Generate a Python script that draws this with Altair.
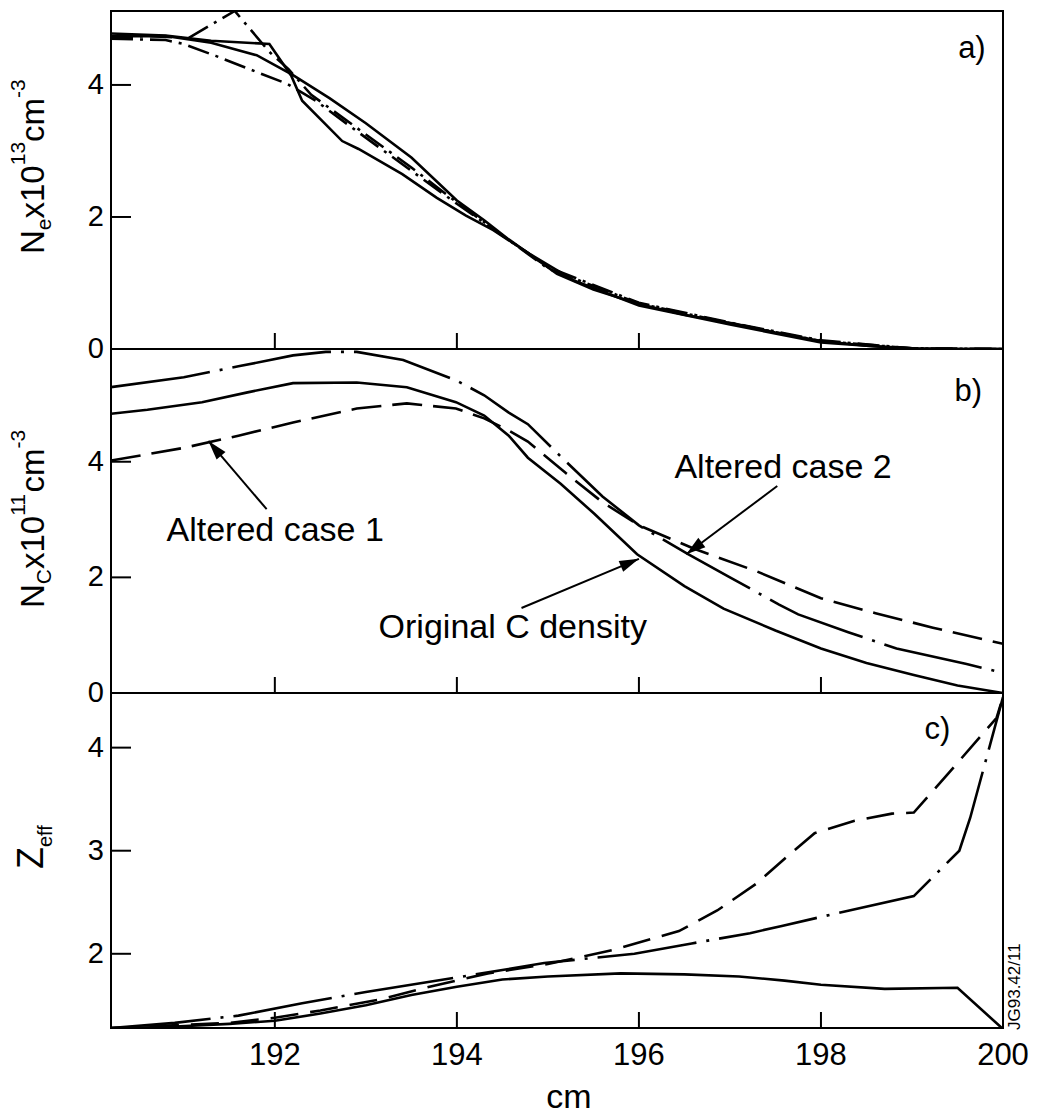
import math
import altair as alt
import pandas as pd

FONT = "Liberation Sans"

# ---------------- axes / layout values ----------------
XDOM = [190.2, 200.0]
X_TICKS = [192, 194, 196, 198]
X_LABELS = [192, 194, 196, 198, 200]
X_TITLE = "cm"
W = 892
H_A, H_B, H_C = 338, 344, 335
YDOM_A = [0, 5.12]
YDOM_B = [0, 5.95]
YDOM_C = [1.28, 4.53]
Y_TICKS_A = [2, 4]
Y_LABELS_A = [0, 2, 4]
Y_TICKS_B = [2, 4]
Y_LABELS_B = [0, 2, 4]
Y_TICKS_C = [2, 3, 4]
Y_LABELS_C = [2, 3, 4]

# ---------------- panel a: N_e ----------------
A_S1_X = [190.2, 190.8, 191.3, 191.8, 192.2, 192.6, 193.0, 193.5, 194.0, 194.3, 194.57, 195.1, 195.5, 196.0, 196.5, 197.07, 197.5, 198.0, 198.5, 199.0, 199.5, 200.0]
A_S1_Y = [4.74, 4.74, 4.64, 4.45, 4.15, 3.8, 3.42, 2.9, 2.25, 1.95, 1.66, 1.14, 0.9, 0.68, 0.52, 0.38, 0.25, 0.12, 0.05, 0.01, 0.0, 0.0]
A_S2_X = [190.2, 190.8, 191.3, 191.94, 192.18, 192.3, 192.74, 192.92, 193.4, 193.78, 194.1, 194.4, 194.8, 195.3, 196.0, 197.0, 198.0, 199.0, 200.0]
A_S2_Y = [4.78, 4.75, 4.67, 4.62, 4.14, 3.76, 3.15, 3.03, 2.65, 2.29, 2.02, 1.8, 1.44, 1.03, 0.66, 0.37, 0.1, 0.0, 0.0]
A_D1_X = [190.2, 190.6, 191.05, 191.56, 191.94, 192.15, 192.4, 192.7, 193.0, 193.5, 194.0, 194.5, 195.0, 196.0, 197.0, 198.0, 199.0, 200.0]
A_D1_Y = [4.72, 4.74, 4.71, 5.12, 4.5, 4.24, 3.85, 3.55, 3.25, 2.75, 2.22, 1.72, 1.24, 0.7, 0.4, 0.13, 0.01, 0.0]
A_D2_X = [190.2, 190.8, 191.0, 191.35, 191.7, 192.13, 192.45, 192.9, 193.5, 194.0, 194.4, 195.0, 196.0, 197.0, 198.0, 199.0, 200.0]
A_D2_Y = [4.70, 4.68, 4.62, 4.44, 4.25, 4.02, 3.76, 3.3, 2.7, 2.2, 1.82, 1.22, 0.69, 0.39, 0.12, 0.01, 0.0]

# ---------------- panel b: N_C ----------------
B_ORIG_X = [190.2, 190.6, 191.2, 191.7, 192.2, 192.9, 193.45, 193.99, 194.3, 194.57, 194.78, 195.14, 195.51, 195.98, 196.5, 196.93, 197.5, 198.0, 198.5, 199.02, 199.5, 200.0]
B_ORIG_Y = [4.83, 4.90, 5.03, 5.2, 5.36, 5.37, 5.29, 5.03, 4.8, 4.45, 4.07, 3.62, 3.1, 2.4, 1.85, 1.46, 1.08, 0.77, 0.52, 0.31, 0.13, 0.0]
B_C1_X = [190.2, 191.0, 191.6, 192.2, 192.9, 193.45, 193.99, 194.3, 194.57, 194.78, 195.2, 195.6, 196.0, 196.6, 197.3, 198.0, 198.6, 199.23, 200.0]
B_C1_Y = [4.02, 4.24, 4.45, 4.68, 4.92, 5.01, 4.92, 4.75, 4.54, 4.35, 3.8, 3.3, 2.9, 2.5, 2.1, 1.64, 1.38, 1.13, 0.85]
B_C2_X = [190.2, 191.0, 191.6, 192.2, 192.56, 192.9, 193.41, 193.99, 194.3, 194.57, 194.78, 195.2, 195.6, 196.0, 196.54, 197.0, 197.54, 197.75, 198.3, 198.83, 199.6, 200.0]
B_C2_Y = [5.29, 5.46, 5.65, 5.84, 5.9, 5.9, 5.76, 5.41, 5.15, 4.85, 4.65, 4.0, 3.4, 2.9, 2.4, 2.0, 1.53, 1.36, 1.05, 0.77, 0.5, 0.35]

# ---------------- panel c: Z_eff ----------------
C_ORIG_X = [190.2, 190.8, 191.5, 192.0, 192.5, 193.0, 193.5, 194.0, 194.5, 195.0, 195.8, 196.5, 197.1, 197.6, 198.0, 198.7, 199.5, 200.0]
C_ORIG_Y = [1.28, 1.29, 1.32, 1.35, 1.42, 1.5, 1.6, 1.68, 1.75, 1.78, 1.81, 1.80, 1.78, 1.74, 1.70, 1.66, 1.67, 1.27]
C_C1_X = [190.2, 191.0, 191.5, 192.0, 192.5, 193.17, 193.7, 194.34, 195.0, 195.73, 196.44, 196.86, 197.29, 197.61, 197.93, 198.37, 198.78, 199.02, 199.4, 199.93, 200.0]
C_C1_Y = [1.28, 1.31, 1.33, 1.38, 1.45, 1.56, 1.68, 1.81, 1.9, 2.04, 2.22, 2.42, 2.68, 2.93, 3.17, 3.29, 3.36, 3.37, 3.75, 4.29, 4.49]
C_C2_X = [190.2, 190.9, 191.6, 192.3, 193.0, 194.0, 194.96, 195.5, 195.95, 196.58, 197.22, 197.57, 198.16, 199.02, 199.52, 199.64, 199.8, 200.0]
C_C2_Y = [1.28, 1.33, 1.40, 1.52, 1.63, 1.77, 1.91, 1.96, 2.0, 2.1, 2.2, 2.27, 2.39, 2.56, 3.0, 3.32, 3.84, 4.49]

# ---------------- annotations (panel b) ----------------
ANN_TEXT = ["Altered case 1", "Altered case 2", "Original C density"]
ANN_X = [190.81, 196.39, 193.14]
ANN_Y = [2.63, 3.72, 0.95]
ARROW_TAIL_X = [191.91, 197.52, 194.71]
ARROW_TAIL_Y = [3.18, 3.58, 1.47]
ARROW_TIP_X = [191.27, 196.52, 196.0]
ARROW_TIP_Y = [4.36, 2.40, 2.32]

PANEL_LABELS = ["a)", "b)", "c)"]
PANEL_LABEL_X = [199.81, 199.77, 199.42]
PANEL_LABEL_Y = [4.41, 5.05, 4.08]

SOLID = None
DASHED_B = [30, 11]
DASHED_C = [28, 12]
DASHDOT_A = [22, 7, 3, 7]
DASHDOT_BC = [100, 10, 3, 10]

CHAR_W = {'N': .722, 'e': .556, 'x': .5, '1': .556, '0': .556, '3': .556, 'c': .5,
          'm': .833, '-': .333, 'C': .722, 'Z': .611, 'f': .278}

ONE = pd.DataFrame({"k": [0]})


def text_width(t, size):
    return sum(CHAR_W.get(ch, .556) for ch in t) * size


def line_df(series):
    rows = []
    for name, xs, ys in series:
        for i, (x, y) in enumerate(zip(xs, ys)):
            rows.append({"series": name, "x": x, "y": y, "order": i})
    return pd.DataFrame(rows)


def fixed_text(txt, x, y, size, angle=0, align="left", baseline="alphabetic"):
    mk = dict(font=FONT, fontSize=size, align=align, baseline=baseline, color="black")
    if angle:
        mk["angle"] = angle
    return alt.Chart(ONE).mark_text(**mk).encode(
        x=alt.value(x), y=alt.value(y), text=alt.value(txt))


def title_layers(pieces, bx, by):
    layers = []
    y = by
    for txt, size, shift in pieces:
        layers.append(fixed_text(txt, bx + shift, y, size, angle=270))
        y -= text_width(txt, size)
    return layers


def make_panel(groups, ydom, h, ytick_vals, ylabel_vals, label_idx, bottom_labels=False, extra=()):
    xs = alt.Scale(domain=XDOM, nice=False, zero=False)
    ys = alt.Scale(domain=ydom, nice=False, zero=False)
    layers = []
    for dash, series in groups:
        mk = dict(color="black", strokeWidth=2.6, clip=True)
        if dash is not None:
            mk["strokeDash"] = dash
        layers.append(
            alt.Chart(line_df(series)).mark_line(**mk).encode(
                x=alt.X("x:Q", scale=xs, axis=None),
                y=alt.Y("y:Q", scale=ys, axis=None),
                detail="series:N",
                order="order:Q",
            )
        )
    # inward tick marks
    xt = alt.Chart(pd.DataFrame({"v": X_TICKS})).mark_rule(color="black", strokeWidth=2).encode(
        x=alt.X("v:Q", scale=xs, axis=None), y=alt.value(h), y2=alt.value(h - 16))
    yt = alt.Chart(pd.DataFrame({"v": ytick_vals})).mark_rule(color="black", strokeWidth=2).encode(
        y=alt.Y("v:Q", scale=ys, axis=None), x=alt.value(0), x2=alt.value(20))
    layers.extend([xt, yt])
    # y tick labels
    ylab = alt.Chart(pd.DataFrame({"v": ylabel_vals, "t": [str(v) for v in ylabel_vals]})).mark_text(
        font=FONT, fontSize=29, align="right", baseline="middle", color="black").encode(
        y=alt.Y("v:Q", scale=ys, axis=None), x=alt.value(-7), text="t:N")
    layers.append(ylab)
    if bottom_labels:
        xlab = alt.Chart(pd.DataFrame({"v": X_LABELS, "t": [str(v) for v in X_LABELS]})).mark_text(
            font=FONT, fontSize=31, align="center", baseline="top", color="black").encode(
            x=alt.X("v:Q", scale=xs, axis=None), y=alt.value(h + 13), text="t:N")
        layers.append(xlab)
        layers.append(fixed_text(X_TITLE, 458, h + 80, 34, align="center"))
    lab = alt.Chart(pd.DataFrame({"x": [PANEL_LABEL_X[label_idx]], "y": [PANEL_LABEL_Y[label_idx]],
                                  "t": [PANEL_LABELS[label_idx]]})).mark_text(
        font=FONT, fontSize=31, align="right", baseline="alphabetic", color="black").encode(
        x=alt.X("x:Q", scale=xs, axis=None), y=alt.Y("y:Q", scale=ys, axis=None), text="t:N")
    layers.append(lab)
    for fn in extra:
        layers.extend(fn(xs, ys))
    return alt.layer(*layers).properties(width=W, height=h)


def panel_b_annotations(xs, ys):
    ppx = W / (XDOM[1] - XDOM[0])
    ppy = H_B / (YDOM_B[1] - YDOM_B[0])
    angs = []
    for tx, ty, hx, hy in zip(ARROW_TAIL_X, ARROW_TAIL_Y, ARROW_TIP_X, ARROW_TIP_Y):
        dx = (hx - tx) * ppx
        dy = -(hy - ty) * ppy
        angs.append(math.degrees(math.atan2(dx, -dy)) % 360)
    arr = pd.DataFrame({"x": ARROW_TAIL_X, "y": ARROW_TAIL_Y, "x2": ARROW_TIP_X,
                        "y2": ARROW_TIP_Y, "ang": angs})
    shafts = alt.Chart(arr).mark_rule(color="black", strokeWidth=2).encode(
        x=alt.X("x:Q", scale=xs, axis=None), y=alt.Y("y:Q", scale=ys, axis=None),
        x2="x2:Q", y2="y2:Q")
    heads = alt.Chart(arr).mark_point(shape="M0,0L0.6,2L-0.6,2Z", filled=True, size=380,
                                      color="black", opacity=1, strokeWidth=0).encode(
        x=alt.X("x2:Q", scale=xs, axis=None), y=alt.Y("y2:Q", scale=ys, axis=None),
        angle=alt.Angle("ang:Q", scale=None))
    txt = alt.Chart(pd.DataFrame({"x": ANN_X, "y": ANN_Y, "t": ANN_TEXT})).mark_text(
        font=FONT, fontSize=34, align="left", baseline="alphabetic", color="black").encode(
        x=alt.X("x:Q", scale=xs, axis=None), y=alt.Y("y:Q", scale=ys, axis=None), text="t:N")
    return [shafts, heads, txt]


def title_a(xs, ys):
    return title_layers([("N", 33, 0), ("e", 21, 7), ("x10", 33, 0), ("13", 21, -19),
                         ("cm", 33, 0), ("-3", 21, -19)], -67, 243)


def title_b(xs, ys):
    return title_layers([("N", 33, 0), ("C", 21, 7), ("x10", 33, 0), ("11", 21, -19),
                         ("cm", 33, 0), ("-3", 21, -19)], -67, 259)


def title_c(xs, ys):
    layers = title_layers([("Z", 36, 0), ("eff", 20, 9)], -68, 176)
    layers.append(fixed_text("JG93.42/11", W + 17, H_C + 2, 17, angle=270))
    return layers


panel_a = make_panel(
    [(SOLID, [("s1", A_S1_X, A_S1_Y), ("s2", A_S2_X, A_S2_Y)]),
     (DASHDOT_A, [("d1", A_D1_X, A_D1_Y), ("d2", A_D2_X, A_D2_Y)])],
    YDOM_A, H_A, Y_TICKS_A, Y_LABELS_A, 0, extra=[title_a])

panel_b = make_panel(
    [(SOLID, [("orig", B_ORIG_X, B_ORIG_Y)]),
     (DASHED_B, [("case1", B_C1_X, B_C1_Y)]),
     (DASHDOT_BC, [("case2", B_C2_X, B_C2_Y)])],
    YDOM_B, H_B, Y_TICKS_B, Y_LABELS_B, 1, extra=[panel_b_annotations, title_b])

panel_c = make_panel(
    [(SOLID, [("orig", C_ORIG_X, C_ORIG_Y)]),
     (DASHED_C, [("case1", C_C1_X, C_C1_Y)]),
     (DASHDOT_BC, [("case2", C_C2_X, C_C2_Y)])],
    YDOM_C, H_C, Y_TICKS_C, Y_LABELS_C, 2, bottom_labels=True, extra=[title_c])

chart = alt.vconcat(panel_a, panel_b, panel_c, spacing=0, bounds="flush").properties(
    padding={"left": 6, "top": 10, "right": 4, "bottom": 0},
    background="white",
).configure_view(stroke="black", strokeWidth=2)

chart.save("out.html", embed_options={"renderer": "svg", "actions": False})
